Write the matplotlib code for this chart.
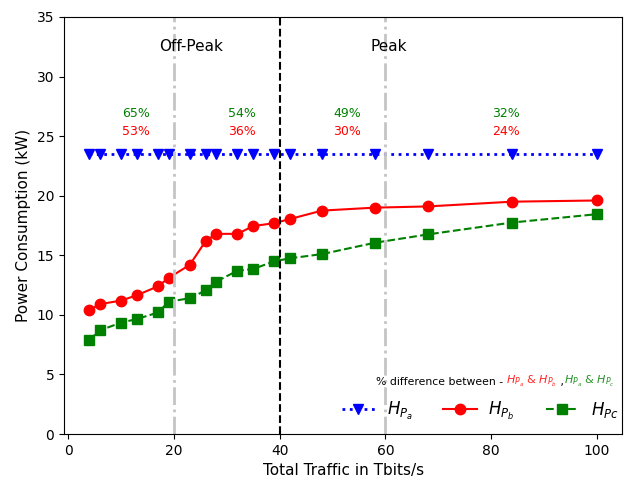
import numpy as np
import matplotlib.pyplot as plt

traffic = [4, 6, 10, 13, 17, 19, 23, 26, 28, 32, 35, 39, 42, 48, 58, 68, 84, 100]
power_a = [23.5] * len(traffic)
power_b = [10.4, 10.9, 11.2, 11.65, 12.4, 13.1, 14.2, 16.2, 16.8, 16.8, 17.45, 17.7, 18.05, 18.75, 19.0, 19.1, 19.5, 19.6]
power_c = [7.9, 8.7, 9.35, 9.65, 10.2, 11.1, 11.4, 12.05, 12.8, 13.7, 13.85, 14.5, 14.75, 15.1, 16.05, 16.75, 17.75, 18.45]

pct_x = [12.8, 32.8, 52.7, 82.9]
pct_ac = ['65%', '54%', '49%', '32%']
pct_ab = ['53%', '36%', '30%', '24%']

fig, ax = plt.subplots(figsize=(6.24, 4.8), dpi=100)
fig.subplots_adjust(left=0.1026, right=0.997, top=0.9646, bottom=0.0958)

ax.plot(traffic, power_a, color='blue', linestyle=':', marker='v', markersize=7.5, linewidth=2, label=r'$H_{P_a}$')
ax.plot(traffic, power_b, color='red', linestyle='-', marker='o', markersize=7.5, linewidth=1.5, label=r'$H_{P_b}$')
ax.plot(traffic, power_c, color='green', linestyle='--', marker='s', markersize=7.5, linewidth=1.5, label=r'$H_{Pc}$')

ax.axvline(x=20, color='#c4c4c4', linestyle='-.', linewidth=2)
ax.axvline(x=60, color='#c4c4c4', linestyle='-.', linewidth=2)
ax.axvline(x=40, color='black', linestyle='--', linewidth=1.5)

ax.text(23.3, 32.5, 'Off-Peak', ha='center', va='center', fontsize=11)
ax.text(60.6, 32.5, 'Peak', ha='center', va='center', fontsize=11)

for x, g, r in zip(pct_x, pct_ac, pct_ab):
    ax.text(x, 26.9, g, color='green', ha='center', va='center', fontsize=9)
    ax.text(x, 25.4, r, color='red', ha='center', va='center', fontsize=9)

# legend caption, pieces chained one after another
t1 = ax.text(58.2, 4.4, '% difference between - ', fontsize=7.8, va='center')
t2 = ax.annotate(r'$H_{P_a}$ & $H_{P_b}$', xy=(1, 0.5), xycoords=t1, color='red',
                 alpha=0.85, fontsize=8, va='center')
t3 = ax.annotate(' ,', xy=(1, 0.5), xycoords=t2, fontsize=7.8, va='center')
ax.annotate(r'$H_{P_a}$ & $H_{P_c}$', xy=(1, 0.5), xycoords=t3, color='green',
            alpha=0.85, fontsize=8, va='center')

ax.legend(loc='lower right', ncol=3, frameon=False, fontsize=12,
          handletextpad=0.7, columnspacing=1.85, bbox_to_anchor=(1.02, -0.007))
ax.set_ylim(0, 35)
ax.set_xlabel('Total Traffic in Tbits/s', fontsize=11)
ax.set_ylabel('Power Consumption (kW)', fontsize=11)
plt.savefig('out.png', dpi=100)
